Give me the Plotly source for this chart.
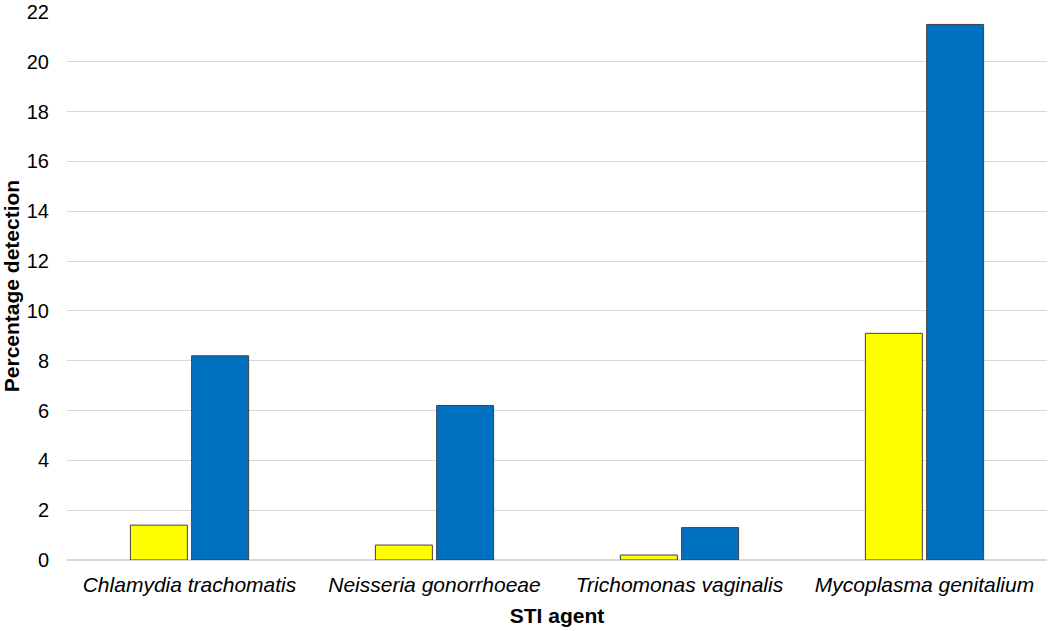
import plotly.graph_objects as go

agents = ["Chlamydia trachomatis", "Neisseria gonorrhoeae",
          "Trichomonas vaginalis", "Mycoplasma genitalium"]
agent_labels = ["<i>%s</i>" % a for a in agents]

serie_jaune = [1.4, 0.6, 0.2, 9.1]
serie_bleue = [8.2, 6.2, 1.3, 21.5]

y_ticks = list(range(0, 23, 2))

POLICE = "Arial, Liberation Sans, sans-serif"

fig = go.Figure()

# barres jaunes puis bleues, contour gris fonce fin
fig.add_trace(go.Bar(
    x=agent_labels, y=serie_jaune, name="Series 1",
    marker=dict(color="#FFFF00", line=dict(color="#404040", width=1)),
))
fig.add_trace(go.Bar(
    x=agent_labels, y=serie_bleue, name="Series 2",
    marker=dict(color="#0070C0", line=dict(color="#404040", width=1)),
))

fig.update_layout(
    width=1050, height=631,
    barmode="group", bargap=0.5, bargroupgap=0.07,
    showlegend=False,
    plot_bgcolor="white", paper_bgcolor="white",
    margin=dict(l=67, r=3, t=12, b=71),
    font=dict(family=POLICE, size=21, color="#000000"),
    xaxis=dict(
        title=dict(text="<b>STI agent</b>", font=dict(size=21), standoff=13),
        showline=False, ticks="", tickfont=dict(size=21), ticklabelstandoff=10,
        automargin=False,
    ),
    yaxis=dict(
        title=dict(text="<b>Percentage detection</b>", font=dict(size=21), standoff=5),
        range=[0, 22], tickvals=y_ticks, showgrid=True,
        gridcolor="#D9D9D9", gridwidth=1, zeroline=True, zerolinecolor="#D9D9D9",
        ticks="", ticklabelstandoff=17, tickfont=dict(size=20),
        automargin=False,
    ),
)

# pas de marge autour du body pour que le graphique commence en (0, 0)
fig.write_html("out.html", config={"displayModeBar": False},
               post_script="document.body.style.margin='0px';")
